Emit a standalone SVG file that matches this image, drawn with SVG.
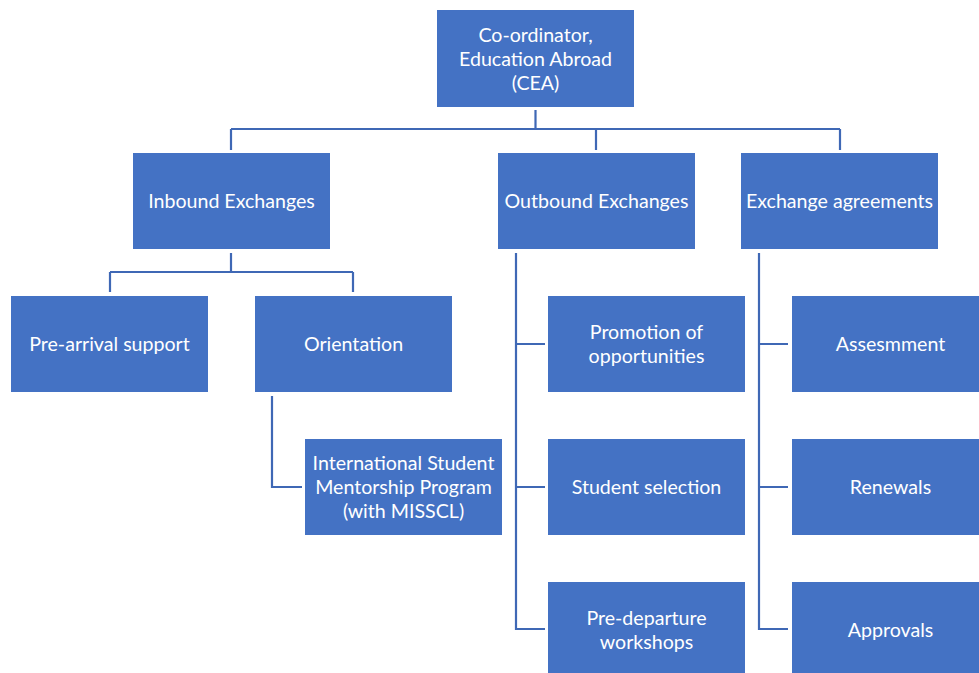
<svg xmlns="http://www.w3.org/2000/svg" width="979" height="673" viewBox="0 0 979 673">
<style>
.box{fill:#4472C4;stroke:#ffffff;stroke-width:1}
.t{font-family:Lato,"Liberation Sans",sans-serif;font-size:19.6px;fill:#ffffff;text-anchor:middle;dominant-baseline:central}
.c{fill:none;stroke:#3F68B5;stroke-width:2.2}
</style>
<rect width="979" height="673" fill="#ffffff"/>
<g id="connectors">
<path class="c" d="M535.5,110 V129 M231,129 H840 M231,129 V150 M596,129 V150 M840,129 V150"/>
<path class="c" d="M231,253 V272 M110,272 H353 M110,272 V292 M353,272 V292"/>
<path class="c" d="M272,396 V487 H302"/>
<path class="c" d="M516,253 V629 H545 M516,344 H545 M516,487 H545"/>
<path class="c" d="M759,253 V629 H788 M759,344 H788 M759,487 H788"/>
</g>
<g id="n-cea"><rect class="box" x="436.5" y="9.5" width="198" height="98"/>
<text class="t" x="535.5" y="34">Co-ordinator,</text><text class="t" x="535.5" y="58">Education Abroad</text><text class="t" x="535.5" y="82">(CEA)</text></g>
<g id="n-inbound"><rect class="box" x="132.5" y="152.5" width="198" height="97"/><text class="t" x="231.5" y="200">Inbound Exchanges</text></g>
<g id="n-outbound"><rect class="box" x="497.5" y="152.5" width="198" height="97"/><text class="t" x="596.5" y="200">Outbound Exchanges</text></g>
<g id="n-agreements"><rect class="box" x="740.5" y="152.5" width="198" height="97"/><text class="t" x="839.5" y="200">Exchange agreements</text></g>
<g id="n-prearrival"><rect class="box" x="10.5" y="295.5" width="198" height="97"/><text class="t" x="109.5" y="343">Pre-arrival support</text></g>
<g id="n-orientation"><rect class="box" x="254.5" y="295.5" width="198" height="97"/><text class="t" x="353.5" y="343">Orientation</text></g>
<g id="n-ismp"><rect class="box" x="304.5" y="438.5" width="198" height="97"/>
<text class="t" x="403.5" y="462">International Student</text><text class="t" x="403.5" y="486">Mentorship Program</text><text class="t" x="403.5" y="510">(with MISSCL)</text></g>
<g id="n-promotion"><rect class="box" x="547.5" y="295.5" width="198" height="97"/>
<text class="t" x="646.5" y="331">Promotion of</text><text class="t" x="646.5" y="355">opportunities</text></g>
<g id="n-selection"><rect class="box" x="547.5" y="438.5" width="198" height="97"/><text class="t" x="646.5" y="486">Student selection</text></g>
<g id="n-predeparture"><rect class="box" x="547.5" y="581.5" width="198" height="97"/>
<text class="t" x="646.5" y="617">Pre-departure</text><text class="t" x="646.5" y="641">workshops</text></g>
<g id="n-assessment"><rect class="box" x="791.5" y="295.5" width="198" height="97"/><text class="t" x="890.5" y="343">Assesmment</text></g>
<g id="n-renewals"><rect class="box" x="791.5" y="438.5" width="198" height="97"/><text class="t" x="890.5" y="486">Renewals</text></g>
<g id="n-approvals"><rect class="box" x="791.5" y="581.5" width="198" height="97"/><text class="t" x="890.5" y="629">Approvals</text></g>
</svg>
